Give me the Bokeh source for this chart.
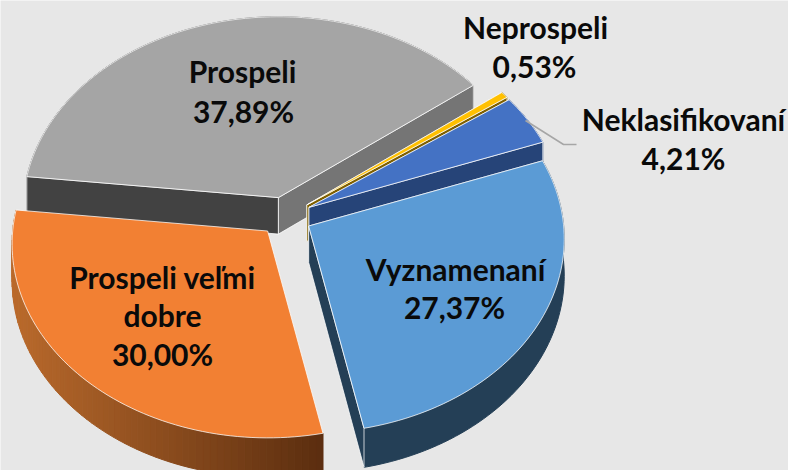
import math
from bokeh.plotting import figure, ColumnDataSource
from bokeh.models import Range1d
from bokeh.core.properties import value
from bokeh.embed import file_html
from bokeh.resources import INLINE

# ---- data ----
categories = ["Prospeli", "Neprospeli", "Neklasifikovaní", "Vyznamenaní", "Prospeli veľmi dobre"]
shares = [37.89, 0.53, 4.21, 27.37, 30.00]
share_labels = ["37,89%", "0,53%", "4,21%", "27,37%", "30,00%"]

# ---- styling ----
top_colors = ["#a5a5a5", "#ffc000", "#4472c4", "#5b9bd5", "#f28033"]
start_wall = ["#424242", "#7f6000", "#264478", "#243f56", None]
end_wall = ["#757575", "#7f6000", "#264478", "#243f56", None]
outer_wall = ["#5a5a5a", "#7f6000", "#264478", "#243f56", None]
shade_left, shade_right = (186, 106, 44), (90, 45, 15)
background = "#e7e7e7"

# ---- projection of the tilted pie ----
W, H = 788, 470
ox, oy = 285.0, 216.0      # pie centre on the page
a, b, k = 255.0, 193.0, 0.067   # half-width, half-depth, perspective
explode, tilt = 26.5, 0.74
depth = 36.5
first_angle = -83.7


def rim(t):
    s, c = math.sin(t), math.cos(t)
    d = 1 + k * c
    return a * s / d, -b * c / d, depth / d


xs, ys, fills, lines, alphas = [], [], [], [], []


def add(px, py, fill, line="#ffffff", alpha=0.75):
    xs.append(px); ys.append(py); fills.append(fill); lines.append(line); alphas.append(alpha)


angle = first_angle
for i, share in enumerate(shares):
    sweep = share / sum(shares) * 360
    t0, t1 = math.radians(angle), math.radians(angle + sweep)
    mid = (t0 + t1) / 2
    cx = ox + explode * math.sin(mid)
    cy = oy - explode * tilt * math.cos(mid)
    n = max(3, int(sweep / 1.5))
    ts = [t0 + (t1 - t0) * j / n for j in range(n + 1)]
    pts = [rim(t) for t in ts]

    # outer wall
    if outer_wall[i] is None:
        for j in range(n):
            (x0, y0, d0), (x1, y1, d1) = pts[j], pts[j + 1]
            px = [cx + x0, cx + x1, cx + x1, cx + x0]
            py = [cy + y0, cy + y1, cy + y1 + d1, cy + y0 + d0]
            f = min(max((cx + x0 - (cx - a)) / (2 * a * 0.62), 0), 1)
            rgb = tuple(round(shade_left[q] + (shade_right[q] - shade_left[q]) * f) for q in range(3))
            col = "#%02x%02x%02x" % rgb
            add(px, py, col, col, 1.0)
    else:
        add([cx + q[0] for q in pts] + [cx + q[0] for q in reversed(pts)],
            [cy + q[1] for q in pts] + [cy + q[1] + q[2] for q in reversed(pts)],
            outer_wall[i], outer_wall[i], 1.0)

    # radial walls
    for (x0, y0, d0), col in ((pts[0], start_wall[i]), (pts[-1], end_wall[i])):
        if col is not None:
            add([cx, cx + x0, cx + x0, cx], [cy, cy + y0, cy + y0 + d0, cy + depth], col)

    # top face
    add([cx] + [cx + q[0] for q in pts], [cy] + [cy + q[1] for q in pts], top_colors[i])
    angle += sweep

p = figure(width=W, height=H, x_range=Range1d(0, W), y_range=Range1d(H, 0),
           output_backend="svg", toolbar_location=None, min_border=0,
           background_fill_color=background, border_fill_color=background,
           outline_line_color=None)
p.axis.visible = False
p.grid.visible = False

src = ColumnDataSource(dict(xs=xs, ys=ys, fill=fills, line=lines, alpha=alphas))
p.patches("xs", "ys", source=src, fill_color="fill", line_color="line", line_alpha="alpha", line_width=1)

# leader line of Neklasifikovaní
leader_x = [525, 563, 576]
leader_y = [120, 144, 144]
p.line(leader_x, leader_y, line_color="#a6a6a6", line_width=1.5)

# labels
label_rows = [
    (242, 70, categories[0]), (243, 110, share_labels[0]),
    (535, 26, categories[1]), (534, 65, share_labels[1]),
    (683, 118, categories[2]), (683, 157, share_labels[2]),
    (455, 268, categories[3]), (454, 306, share_labels[3]),
    (162, 276, "Prospeli veľmi"), (162, 314, "dobre"), (162, 353, share_labels[4]),
]
p.text([r[0] for r in label_rows], [r[1] for r in label_rows], text=[r[2] for r in label_rows],
       text_font=value("Lato"), text_font_style="bold", text_font_size="30px",
       text_color="#0a0a0a", text_align="center", text_baseline="middle")

open("out.html", "w").write(file_html(p, INLINE))
